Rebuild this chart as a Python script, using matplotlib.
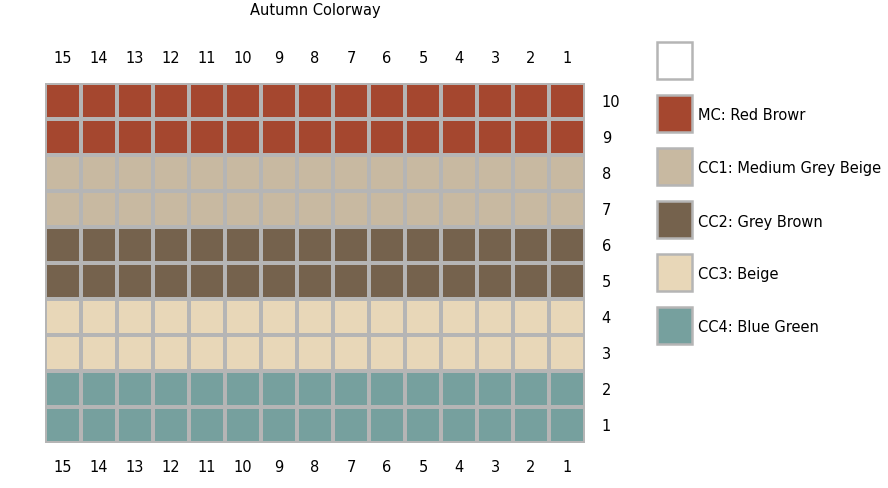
import numpy as np
import matplotlib.pyplot as plt
from matplotlib.colors import ListedColormap
from matplotlib.patches import Rectangle

# データ
colors = ['#A5472F', '#C8B9A1', '#75624D', '#E8D7B8', '#76A09E']
names = ['MC: Red Browr', 'CC1: Medium Grey Beige', 'CC2: Grey Brown', 'CC3: Beige', 'CC4: Blue Green']
row_color = [4, 4, 3, 3, 2, 2, 1, 1, 0, 0]   # rows 1..10 (bottom to top)
n_cols = 15
col_labels = [str(i) for i in range(n_cols, 0, -1)]
row_labels = [str(i) for i in range(1, 11)]

grid = np.array([[c] * n_cols for c in row_color])

fig = plt.figure(figsize=(8.88, 4.88), dpi=100)
ax = fig.add_axes([45 / 888, 45 / 488, 540 / 888, 360 / 488])
ax.pcolormesh(grid, cmap=ListedColormap(colors), vmin=-0.5, vmax=4.5,
              edgecolors='#B5B5B5', linewidth=1.5)
ax.set_xlim(0, n_cols)
ax.set_ylim(0, len(row_labels))
for s in ax.spines.values():
    s.set_visible(False)
ax.tick_params(length=0, labelsize=10.5)
ax.set_xticks(np.arange(n_cols) + 0.5)
ax.set_xticklabels(col_labels)
ax.tick_params(axis='x', top=True, labeltop=True, pad=12)
ax.set_yticks(np.arange(len(row_labels)) + 0.5)
ax.set_yticklabels(row_labels)
ax.tick_params(axis='y', left=False, labelleft=False, right=True, labelright=True, pad=12)
fig.text(315 / 888, 1 - 10 / 488, 'Autumn Colorway', ha='center', va='center', fontsize=10.5)

# 凡例
lax = fig.add_axes([0, 0, 1, 1])
lax.set_xlim(0, 888)
lax.set_ylim(488, 0)
lax.axis('off')
entries = [('white', '')] + list(zip(colors, names))
for i, (c, name) in enumerate(entries):
    y = 42 + i * 53
    lax.add_patch(Rectangle((657, y), 35, 37, facecolor=c, edgecolor='#B5B5B5', linewidth=1.8))
    lax.text(698, y + 21, name, va='center', fontsize=10.5)

plt.savefig('out.png', dpi=100)
